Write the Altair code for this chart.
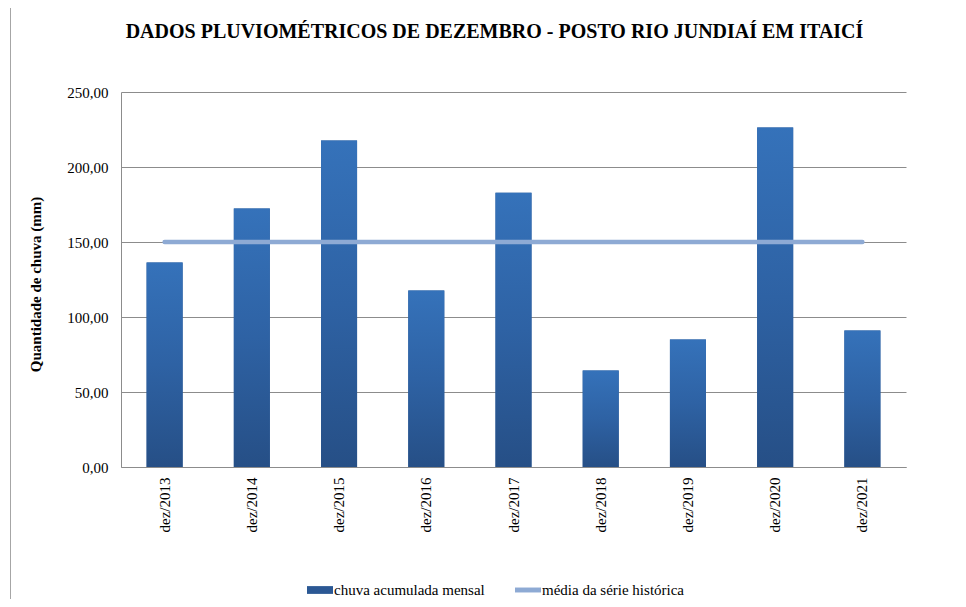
import altair as alt
import pandas as pd

anos = ["dez/2013", "dez/2014", "dez/2015", "dez/2016", "dez/2017",
        "dez/2018", "dez/2019", "dez/2020", "dez/2021"]
chuva = [136.3, 172.3, 217.6, 117.7, 182.9, 64.4, 85.0, 226.4, 91.0]
media = [150.0, 150.0, 150.0, 150.0, 150.0, 150.0, 150.0, 150.0, 150.0]
y_ticks = [0, 50, 100, 150, 200, 250]

serie_barra = "chuva acumulada mensal"
serie_linha = "média da série histórica"

df_bar = pd.DataFrame({"ano": anos, "valor": chuva, "serie": serie_barra})
df_line = pd.DataFrame({"ano": anos, "valor": media, "serie": serie_linha})

FONT = "Liberation Serif"
GRID = "#8c8c8c"
BAR_DARK = "#2b5894"
LINE_COL = "#8eaad4"

x_enc = alt.X(
    "ano:N", sort=anos,
    scale=alt.Scale(paddingInner=0.587, paddingOuter=0.2935),
    axis=alt.Axis(title=None, labelAngle=-90, labelFont=FONT, labelFontSize=15,
                  labelColor="#000", labelPadding=10, ticks=False, grid=False,
                  domainColor=GRID, domainWidth=1),
)
y_enc = alt.Y(
    "valor:Q",
    scale=alt.Scale(domain=[0, 250], nice=False),
    axis=alt.Axis(values=y_ticks, title="Quantidade de chuva (mm)",
                  labelExpr="replace(format(datum.value, '.2f'), '.', ',')",
                  labelFont=FONT, labelFontSize=15, labelColor="#000",
                  labelPadding=13, ticks=False, grid=True, gridColor=GRID,
                  gridWidth=1, domainColor=GRID, domainWidth=1,
                  titleFont=FONT, titleFontSize=15, titleFontWeight="bold",
                  titleColor="#000", titleAngle=-90, titleX=-86, titleY=192,
                  titleAlign="center", titleBaseline="middle"),
)

bar_legend = alt.Legend(
    title=None, orient="none", legendX=186, legendY=485,
    symbolType="M-1,-0.3H1V0.3H-1Z", symbolSize=676, symbolStrokeWidth=0,
    labelFont=FONT, labelFontSize=15, labelColor="#000", labelOffset=1,
    padding=0,
)
line_legend = alt.Legend(
    title=None, orient="none", legendX=394, legendY=485,
    symbolType="M-1,-0.19H1V0.19H-1Z", symbolSize=676, symbolStrokeWidth=0,
    symbolFillColor=LINE_COL,
    labelFont=FONT, labelFontSize=15, labelColor="#000", labelOffset=1,
    padding=0,
)

base_bars = alt.Chart(df_bar).mark_bar().encode(
    x=x_enc, y=y_enc,
    color=alt.Color("serie:N", scale=alt.Scale(domain=[serie_barra], range=[BAR_DARK]),
                    legend=bar_legend),
)

grad = alt.Gradient(
    gradient="linear",
    stops=[alt.GradientStop(color="#3572ba", offset=0),
           alt.GradientStop(color="#2e62a4", offset=0.5),
           alt.GradientStop(color="#264f86", offset=1)],
    x1=0, x2=0, y1=0, y2=1,
)
grad_bars = alt.Chart(df_bar).mark_bar(color=grad).encode(x=x_enc, y=y_enc)

line = alt.Chart(df_line).mark_line(strokeWidth=4.5, strokeCap="round").encode(
    x=x_enc, y=y_enc,
    stroke=alt.Stroke("serie:N", scale=alt.Scale(domain=[serie_linha], range=[LINE_COL]),
                      legend=line_legend),
)

border = alt.Chart(alt.Data(values=[{"b": 1}])).mark_rule(
    color="#a6a6a6", strokeWidth=1
).encode(x=alt.value(-110.5), y=alt.value(-84), y2=alt.value(507))

chart = alt.layer(base_bars, grad_bars, line, border).properties(
    width=785, height=375,
    autosize=alt.AutoSizeParams(type="none"),
    padding={"left": 113, "top": 84, "right": 52, "bottom": 132},
    title=alt.TitleParams(
        "DADOS PLUVIOMÉTRICOS DE DEZEMBRO - POSTO RIO JUNDIAÍ EM ITAICÍ",
        font=FONT, fontSize=20, fontWeight="bold", color="#000",
        anchor="middle", dx=-19, offset=-50, baseline="alphabetic",
    ),
).configure(background="white").configure_view(stroke=None)

chart.save("out.html", embed_options={"renderer": "svg", "actions": False})
